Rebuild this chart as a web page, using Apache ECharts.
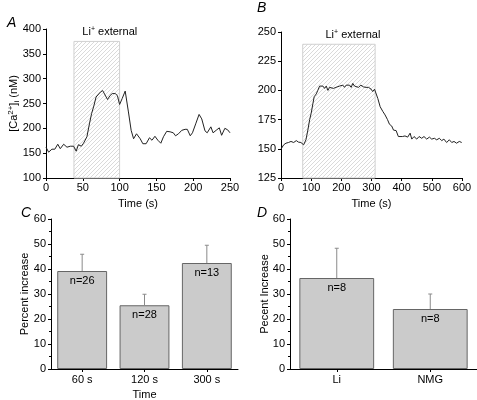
<!DOCTYPE html>
<html><head><meta charset="utf-8">
<script src="https://cdn.jsdelivr.net/npm/echarts@6/dist/echarts.min.js"></script>
<style>html,body{margin:0;padding:0;background:#fff}#c{width:477px;height:400px}</style>
</head><body><div id="c"></div>
<script>
// Panel A trace
const timeA = [0,3.6,8,12,16,19.4,24,28.5,33,37.5,41,44,48,51,55.6,59,62,65,68,70.5,74,77,79.6,83.6,87,90,94,97,100,103.5,107.6,112,115.7,119,123,128,131.6,136,140.6,144,148,152,156,159.6,164,168.6,173,176,180,184.5,189,192,196,199,203.4,208,211.6,216,219,224,227,232,235.5,238.6,243,246.8,250];
const caA = [162,152,158,158,168,159,168,162,164,164,154,167,164,170,183,209,230,245,263,262,273,276,275,258,266,270,270,266,248,260,275,233,196,179,189,179,169,169,181,176,184,176,170,183,194,193,191,185,189,196,198,198,185,191,209,228,219,195,191,203,191,197,201,186,200,197,191];
// Panel B trace
const timeB = [0,8.8,16.5,25,33,42,50.7,58,66,75,82.7,89,95,100,106,110,117,122,128,133,139,144.5,150,155.5,161,166.5,174,182,188.6,194,199.6,205,210.6,216,221.7,227,232.7,238,243.7,249,257,264.7,273.5,282,290,299,304,310,315.6,321,328.7,337.5,345,353,359.6,367,373,381.6,389,395,402.6,411,420,428,433.5,441,450,457.7,466.5,474,483,492,499.6,508.5,516,525,532.7,540,549,558,566,573.5,582,591,599];
const caB = [149.7,153.4,154.8,155.4,156.3,155.4,157,155.7,155.4,153.4,157.7,166,175,180.4,189,194.6,197,200,203.7,202.6,203.7,201.7,203.7,200,202.6,201,201.7,202.6,201,203.7,202.6,204.5,202.6,204.5,203,204.5,202.6,206,203.7,203.7,202.6,204.5,203,202.6,202.6,201,199,201,201.7,193,186,182,179,175,171,169.5,166,165.6,160.5,162,160.5,161,160,163.4,158.3,160.5,158.3,160.5,159,160.5,158.3,160,158.3,159,157.7,159,157,158.3,155.4,157.7,155.4,156.3,154.8,156.3,155.4];
const liWindowA = [38, 100, 375];
const liWindowB = [72, 312, 239.5];
// Panel C
const catC = ['60 s', '120 s', '300 s'];
const valC = [39.2, 25.5, 42.4];
const errC = [6.7, 4.4, 7.1];
const nC = ['n=26', 'n=28', 'n=13'];
// Panel D
const catD = ['Li', 'NMG'];
const valD = [36.4, 24.0];
const errD = [11.9, 6.0];
const nD = ['n=8', 'n=8'];

const FONT = 'Liberation Sans, Arial, sans-serif';

// hatch pattern
const pc = document.createElement('canvas');
pc.width = 4; pc.height = 4;
const g = pc.getContext('2d');
g.fillStyle = '#fff'; g.fillRect(0,0,4,4);
g.strokeStyle = '#dadada'; g.lineWidth = 1;
g.beginPath();
g.moveTo(0,4); g.lineTo(4,0);
g.moveTo(-1,1); g.lineTo(1,-1);
g.moveTo(3,5); g.lineTo(5,3);
g.stroke();

const chart = echarts.init(document.getElementById('c'));

const axisLine = {show:true, onZero:false, lineStyle:{color:'#000', width:1}};
const axisTick = {show:true, inside:false, length:3, lineStyle:{color:'#000'}};
const axisLabel = (m) => ({color:'#000', fontSize:11, fontFamily:FONT, margin:m});
const nameStyle = {color:'#000', fontSize:11, fontFamily:FONT};

const liLabel = (dx) => ({
  show:true, position:'top', distance:2, offset:[dx,0],
  formatter:'{a|Li}{s|+}{a| external}',
  rich:{a:{fontSize:11, fontFamily:FONT, color:'#000', lineHeight:13},
        s:{fontSize:7, fontFamily:FONT, color:'#000', verticalAlign:'top', lineHeight:9}}
});

function errSeries(xi, yi, vals, errs) {
  return {
    type:'custom', xAxisIndex:xi, yAxisIndex:yi, z:3,
    data: vals.map((v,i)=>[i, v, v+errs[i]]),
    renderItem: (params, api) => {
      const p0 = api.coord([api.value(0), api.value(1)]);
      const p1 = api.coord([api.value(0), api.value(2)]);
      return {type:'group', children:[
        {type:'line', shape:{x1:p0[0], y1:p0[1], x2:p1[0], y2:p1[1]}, style:{stroke:'#8a8a8a', lineWidth:1}},
        {type:'line', shape:{x1:p1[0]-2, y1:p1[1], x2:p1[0]+2, y2:p1[1]}, style:{stroke:'#8a8a8a', lineWidth:1}}
      ]};
    }
  };
}
function barSeries(xi, yi, vals, labels) {
  return {
    type:'bar', xAxisIndex:xi, yAxisIndex:yi, barCategoryGap:'20%', z:2,
    data: vals,
    itemStyle:{color:'#cbcbcb', borderColor:'#666', borderWidth:1},
    label:{show:true, position:'insideTop', distance:4, color:'#000', fontSize:11, fontFamily:FONT,
           formatter:(p)=>labels[p.dataIndex]}
  };
}

const option = {
  animation:false,
  backgroundColor:'#fff',
  textStyle:{fontFamily:FONT},
  grid:[
    {left:46, top:29, width:184, height:149, outerBoundsMode:'none'},
    {left:281, top:32, width:181, height:146, outerBoundsMode:'none'},
    {left:51, top:219, width:187, height:150, outerBoundsMode:'none'},
    {left:290, top:219, width:187, height:150, outerBoundsMode:'none'}
  ],
  xAxis:[
    {gridIndex:0, type:'value', min:0, max:250, interval:50, axisLine, axisTick, axisLabel:axisLabel(4), splitLine:{show:false},
     name:'Time (s)', nameLocation:'middle', nameGap:20, nameTextStyle:nameStyle},
    {gridIndex:1, type:'value', min:0, max:600, interval:100, axisLine, axisTick, axisLabel:axisLabel(4), splitLine:{show:false},
     name:'Time (s)', nameLocation:'middle', nameGap:20, nameTextStyle:nameStyle},
    {gridIndex:2, type:'category', data:catC, axisLine, axisTick:{show:true, alignWithLabel:true, length:3, lineStyle:{color:'#000'}},
     axisLabel:axisLabel(5), name:'Time', nameLocation:'middle', nameGap:20, nameTextStyle:nameStyle},
    {gridIndex:3, type:'category', data:catD, axisLine, axisTick:{show:true, alignWithLabel:true, length:3, lineStyle:{color:'#000'}},
     axisLabel:axisLabel(5)}
  ],
  yAxis:[
    {gridIndex:0, type:'value', min:100, max:400, interval:50, axisLine, axisTick, axisLabel:axisLabel(5), splitLine:{show:false},
     name:'{t|[Ca}{s|2+}{t|]}{b|i}{t| (nM)}', nameLocation:'middle', nameGap:25, nameMoveOverlap:false,
     nameTextStyle:{color:'#000', fontFamily:FONT, rich:{
       t:{fontSize:11, fontFamily:FONT, color:'#000', lineHeight:14},
       s:{fontSize:8, fontFamily:FONT, color:'#000', verticalAlign:'top', lineHeight:10},
       b:{fontSize:8, fontFamily:FONT, color:'#000', verticalAlign:'bottom', lineHeight:10}}}},
    {gridIndex:1, type:'value', min:125, max:250, interval:25, axisLine, axisTick, axisLabel:axisLabel(5), splitLine:{show:false}},
    {gridIndex:2, type:'value', min:0, max:60, interval:10, axisLine, axisTick, axisLabel:axisLabel(5), splitLine:{show:false},
     minorTick:{show:true, splitNumber:2, length:2, lineStyle:{color:'#000'}},
     name:'Percent increase', nameLocation:'middle', nameGap:21, nameMoveOverlap:false, nameTextStyle:nameStyle},
    {gridIndex:3, type:'value', min:0, max:60, interval:10, axisLine, axisTick, axisLabel:axisLabel(5), splitLine:{show:false},
     minorTick:{show:true, splitNumber:2, length:2, lineStyle:{color:'#000'}},
     name:'Pecent Increase', nameLocation:'middle', nameGap:20, nameMoveOverlap:false, nameTextStyle:nameStyle}
  ],
  series:[
    {type:'line', xAxisIndex:0, yAxisIndex:0, showSymbol:false, symbol:'none',
     data: timeA.map((t,i)=>[t, caA[i]]), lineStyle:{color:'#222', width:1}, z:3,
     markArea:{silent:true, itemStyle:{color:{image:pc, repeat:'repeat'}, borderColor:'#d0d0d0', borderWidth:1},
       label:liLabel(13),
       data:[[{xAxis:liWindowA[0], yAxis:100},{xAxis:liWindowA[1], yAxis:liWindowA[2]}]]}},
    {type:'line', xAxisIndex:1, yAxisIndex:1, showSymbol:false, symbol:'none',
     data: timeB.map((t,i)=>[t, caB[i]]), lineStyle:{color:'#222', width:1}, z:3,
     markArea:{silent:true, itemStyle:{color:{image:pc, repeat:'repeat'}, borderColor:'#d0d0d0', borderWidth:1},
       label:liLabel(14),
       data:[[{xAxis:liWindowB[0], yAxis:125},{xAxis:liWindowB[1], yAxis:liWindowB[2]}]]}},
    barSeries(2, 2, valC, nC),
    errSeries(2, 2, valC, errC),
    barSeries(3, 3, valD, nD),
    errSeries(3, 3, valD, errD)
  ],
  graphic:[
    {type:'text', left:7, top:16, style:{text:'A', font:'italic 14px ' + FONT, fill:'#000'}},
    {type:'text', left:257, top:1, style:{text:'B', font:'italic 14px ' + FONT, fill:'#000'}},
    {type:'text', left:21, top:206, style:{text:'C', font:'italic 14px ' + FONT, fill:'#000'}},
    {type:'text', left:257, top:206, style:{text:'D', font:'italic 14px ' + FONT, fill:'#000'}}
  ]
};
chart.setOption(option);
</script></body></html>
